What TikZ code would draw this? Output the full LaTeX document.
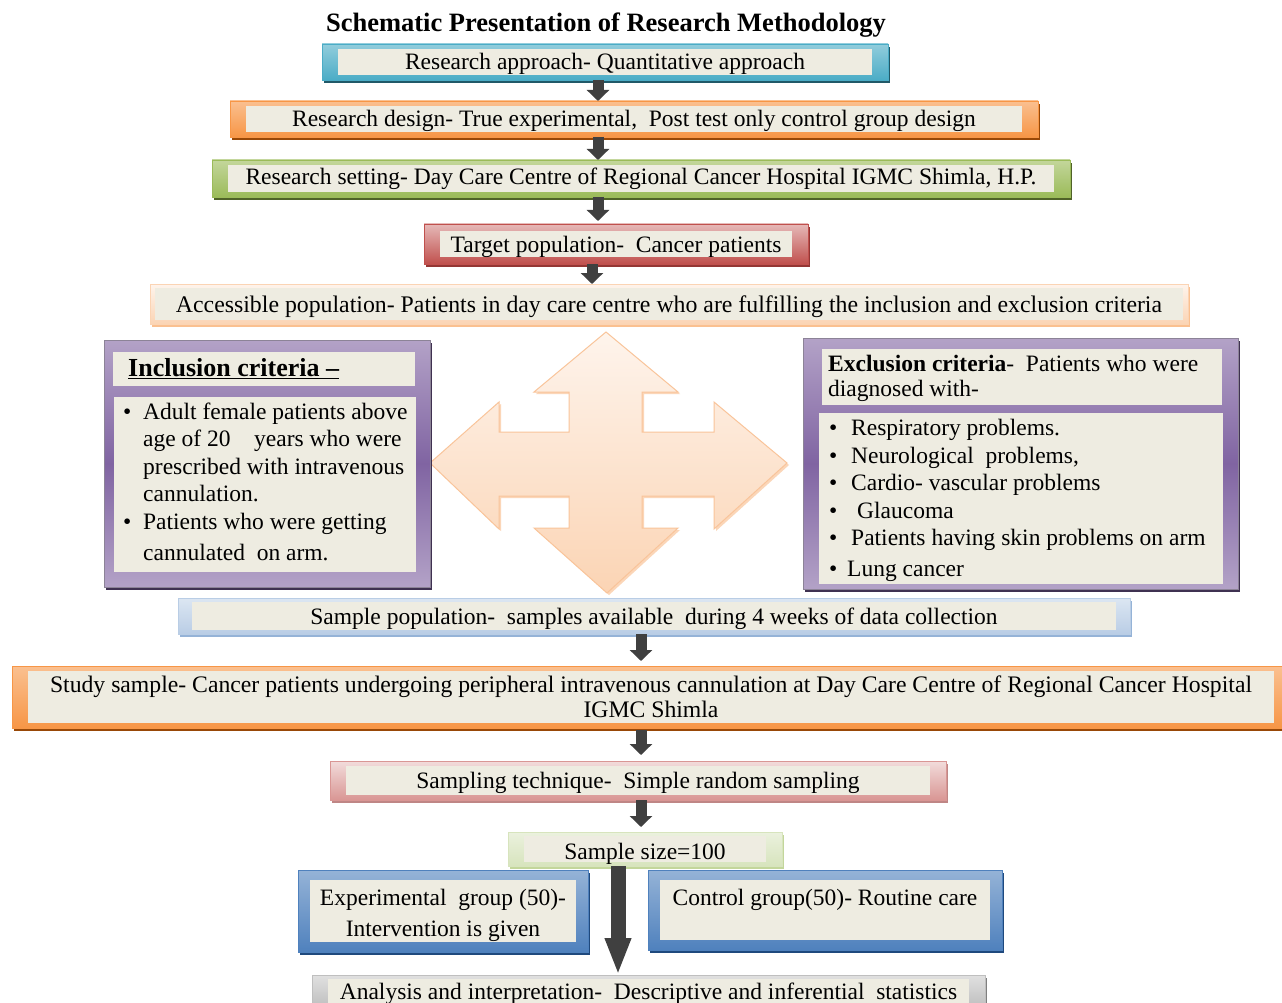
\documentclass[tikz,border=0pt]{standalone}
\usepackage{fontspec}
\setmainfont{Liberation Serif}
\usetikzlibrary{arrows.meta,shadows}
\definecolor{cream}{HTML}{EEECE1}
\definecolor{aqua}{HTML}{4BACC6}
\definecolor{aqual}{HTML}{92CDDC}
\definecolor{aquad}{HTML}{215968}
\definecolor{orng}{HTML}{F79646}
\definecolor{orngl}{HTML}{FAC090}
\definecolor{orngd}{HTML}{984807}
\definecolor{grn}{HTML}{9BBB59}
\definecolor{grnl}{HTML}{C3D69B}
\definecolor{grnd}{HTML}{4F6228}
\definecolor{rd}{HTML}{C0504D}
\definecolor{rdl}{HTML}{E6B9B8}
\definecolor{rdd}{HTML}{943634}
\definecolor{peach}{HTML}{FBD4B4}
\definecolor{peachl}{HTML}{FEF4EC}
\definecolor{peachb}{HTML}{F9C49A}
\definecolor{purp}{HTML}{8064A2}
\definecolor{purpl}{HTML}{B3A2C7}
\definecolor{purpd}{HTML}{3F3151}
\definecolor{lblue}{HTML}{B9CDE5}
\definecolor{lbluel}{HTML}{DCE6F2}
\definecolor{lblued}{HTML}{95B3D7}
\definecolor{blu}{HTML}{4F81BD}
\definecolor{blul}{HTML}{95B3D7}
\definecolor{blud}{HTML}{1F497D}
\definecolor{pink}{HTML}{D99694}
\definecolor{pinkl}{HTML}{F2DCDB}
\definecolor{lgrn}{HTML}{D7E4BD}
\definecolor{lgrnl}{HTML}{EBF1DE}
\definecolor{gryl}{HTML}{E0E0E0}
\definecolor{gry}{HTML}{BFBFBF}
\definecolor{gryd}{HTML}{7F7F7F}
\definecolor{arr}{HTML}{404040}
\begin{document}
\begin{tikzpicture}[x=1pt,y=-1pt,
  txt/.style={font=\fontsize{23.5}{27.5}\selectfont},
  wbox/.style={rectangle, anchor=north west, inner sep=0pt, outer sep=0pt, align=center, txt},
  sl/.style={text height=18pt, text depth=2pt},
  inset/.style 2 args={path picture={\fill[cream] ([shift={(#1pt,-#2pt)}]path picture bounding box.north west) rectangle ([shift={(-#1pt,#2pt)}]path picture bounding box.south east);}},
  tint/.style n args={3}{top color=#1, bottom color=#2, draw=#2, line width=0.8pt,
     drop shadow={shadow xshift=1.5pt, shadow yshift=-3pt, fill=#3, opacity=1}},
  pframe/.style={rectangle, anchor=north west, inner sep=0pt, outer sep=0pt,
     top color=purpl, bottom color=purpl, middle color=purp, draw=purpd!60, line width=0.8pt,
     drop shadow={shadow xshift=2pt, shadow yshift=-3pt, fill=purpd, opacity=1}},
  crect/.style={rectangle, anchor=north west, inner sep=0pt, outer sep=0pt, fill=cream},
  ltxt/.style={anchor=west, align=left, inner sep=0pt, txt},
  conn/.style={draw=arr, line width=11pt, -{Triangle[width=22pt,length=11pt]}},
  bigconn/.style={draw=arr, line width=15pt, -{Triangle[width=24pt,length=37pt]}},
  crossarrow/.style={top color=peachl, bottom color=peach, draw=peachb, line width=1pt,
     drop shadow={shadow xshift=2pt, shadow yshift=-2pt, fill=peachb!70, opacity=1}}
]
\useasboundingbox (0,0) rectangle (1282,1003);
\fill[white] (0,0) rectangle (1282,1003);

% title
\node[inner sep=0pt, font=\fontsize{26.5}{30}\selectfont\bfseries] (title) at (606,25) {Schematic Presentation of Research Methodology};

% top chain
\node[wbox, sl, tint={aqual}{aqua}{aquad}, inset={16}{5}, minimum width=566pt, minimum height=36pt] (b1) at (322,44) {Research approach- Quantitative approach};
\node[wbox, sl, tint={orngl}{orng}{orngd}, inset={16}{5}, minimum width=808pt, minimum height=36pt] (b2) at (230,101) {Research design- True experimental,\ \ Post test only control group design};
\node[wbox, tint={grnl}{grn}{grnd}, inset={16}{5}, minimum width=858pt, minimum height=37pt] (b3) at (212,160) {Research setting- Day Care Centre of Regional Cancer Hospital IGMC Shimla, H.P.};
\node[wbox, sl, tint={rdl}{rd}{rdd}, inset={16}{7}, minimum width=384pt, minimum height=40pt] (b4) at (424,224) {Target population-\ \ Cancer patients};
\node[wbox, sl, tint={peachl}{peach}{orngl}, inset={5}{4}, minimum width=1038pt, minimum height=40pt, font=\fontsize{23.8}{27.5}\selectfont] (b5) at (150,284) {Accessible population- Patients in day care centre who are fulfilling the inclusion and exclusion criteria};

% cross arrow
\draw[crossarrow] (606,332) -- (678,392) -- (642,392) -- (642,432) -- (714,432) -- (714,402)
  -- (787,463) -- (714,529) -- (714,496) -- (642,496) -- (642,528) -- (678,528) -- (607,593)
  -- (534,528) -- (569,528) -- (569,496) -- (499,496) -- (499,529) -- (430,463) -- (499,402)
  -- (499,432) -- (569,432) -- (569,392) -- (534,392) -- cycle;

% inclusion criteria
\node[pframe, minimum width=326pt, minimum height=247pt] (inclf) at (104,340) {};
\node[crect, minimum width=302pt, minimum height=34pt] (inclh) at (113,352) {};
\node[crect, minimum width=302pt, minimum height=175pt] (inclb) at (114,397) {};
\node[ltxt, font=\fontsize{26}{30}\selectfont\bfseries] (inclht) at (128,369) {\underline{Inclusion criteria –}};
\node[ltxt] (inclbt) at (123,482) {\makebox[20pt][l]{•}Adult female patients above\\
\hspace*{20pt}age of 20\ \ \ \ years who were\\
\hspace*{20pt}prescribed with intravenous\\
\hspace*{20pt}cannulation.\\
\makebox[20pt][l]{•}Patients who were getting\\[4pt]
\hspace*{20pt}cannulated\ \ on arm.};

% exclusion criteria
\node[pframe, minimum width=435pt, minimum height=251pt] (exclf) at (803,338) {};
\node[crect, minimum width=400pt, minimum height=56pt] (exclh) at (822,349) {};
\node[crect, minimum width=404pt, minimum height=171pt] (exclb) at (819,413) {};
\node[ltxt, font=\fontsize{23.5}{25}\selectfont] (exclht) at (828,378.5) {\textbf{Exclusion criteria}-\ \ Patients who were\\diagnosed with-};
\node[ltxt] (exclbt) at (829,500.5) {\makebox[22pt][l]{•}Respiratory problems.\\
\makebox[22pt][l]{•}Neurological\ \ problems,\\
\makebox[22pt][l]{•}Cardio- vascular problems\\
\makebox[22pt][l]{•}\hspace{6pt}Glaucoma\\
\makebox[22pt][l]{•}Patients having skin problems on arm\\[3pt]
\makebox[18pt][l]{•}Lung cancer};

% lower chain
\node[wbox, sl, tint={lbluel}{lblue}{lblued}, inset={14}{4}, minimum width=952pt, minimum height=36pt] (sp) at (178,598) {Sample population-\ \ samples available\ \ during 4 weeks of data collection};
\node[wbox, tint={orngl}{orng}{orngd}, inset={16}{5}, minimum width=1278pt, minimum height=62pt, font=\fontsize{23.7}{25}\selectfont] (ss) at (12,666) {Study sample- Cancer patients undergoing peripheral intravenous cannulation at Day Care Centre of Regional Cancer Hospital\\IGMC Shimla};
\node[wbox, sl, tint={pinkl}{pink}{rdd!60}, inset={16}{5}, minimum width=616pt, minimum height=39pt] (st) at (330,761) {Sampling technique-\ \ Simple random sampling};
\node[wbox, tint={lgrnl}{lgrn}{grnl}, inset={16}{4}, minimum width=274pt, minimum height=34pt, text height=20pt, text depth=0pt] (sz) at (508,832) {Sample size=100};
\node[wbox, tint={blul}{blu}{blud}, inset={12}{10}, minimum width=290pt, minimum height=82pt, font=\fontsize{23.5}{31}\selectfont] (eg) at (298,870) {\rule{0pt}{25pt}Experimental\ \ group (50)-\\Intervention is given};
\node[wbox, tint={blul}{blu}{blud}, inset={12}{10}, minimum width=354pt, minimum height=80pt, text height=8pt, text depth=18pt] (cg) at (648,870) {Control group(50)- Routine care};
\node[wbox, sl, tint={gryl}{gry}{gryd}, inset={16}{4}, minimum width=673pt, minimum height=32pt] (an) at (312,975) {Analysis and interpretation-\ \ Descriptive and inferential\ \ statistics};

% connectors
\coordinate (xa) at (598,0);
\coordinate (xb) at (592,0);
\coordinate (xc) at (641,0);
\coordinate (xd) at (618,0);
\draw[conn] (b1.south -| xa) -- (b2.north -| xa);
\draw[conn] (b2.south -| xa) -- (b3.north -| xa);
\draw[conn, shorten >=3pt] (b3.south -| xa) -- (b4.north -| xa);
\draw[conn] (b4.south -| xb) -- (b5.north -| xb);
\draw[conn, shorten >=5pt] (sp.south -| xc) -- (ss.north -| xc);
\draw[conn, shorten <=2pt, shorten >=6pt] (ss.south -| xc) -- (st.north -| xc);
\draw[conn, shorten >=5pt] (st.south -| xc) -- (sz.north -| xc);
\draw[bigconn] (sz.south -| xd) -- (an.north -| xd);
\end{tikzpicture}
\end{document}
